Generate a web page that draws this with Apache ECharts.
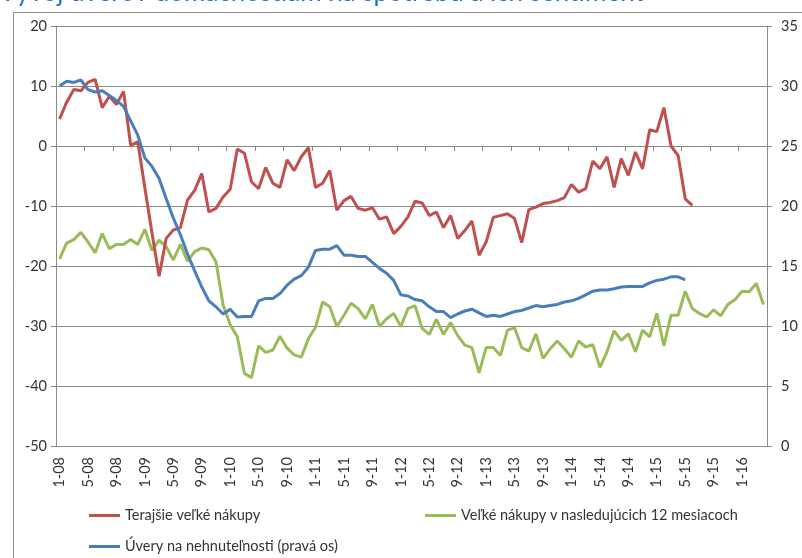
<!DOCTYPE html>
<html>
<head>
<meta charset="utf-8">
<script src="https://cdn.jsdelivr.net/npm/echarts@6/dist/echarts.min.js"></script>
<style>
html,body{margin:0;padding:0;background:#fff;}
#chart{width:802px;height:558px;}
</style>
</head>
<body>
<div id="chart"></div>
<script>
const categories = ("1-08 2-08 3-08 4-08 5-08 6-08 7-08 8-08 9-08 10-08 11-08 12-08 " +
  "1-09 2-09 3-09 4-09 5-09 6-09 7-09 8-09 9-09 10-09 11-09 12-09 " +
  "1-10 2-10 3-10 4-10 5-10 6-10 7-10 8-10 9-10 10-10 11-10 12-10 " +
  "1-11 2-11 3-11 4-11 5-11 6-11 7-11 8-11 9-11 10-11 11-11 12-11 " +
  "1-12 2-12 3-12 4-12 5-12 6-12 7-12 8-12 9-12 10-12 11-12 12-12 " +
  "1-13 2-13 3-13 4-13 5-13 6-13 7-13 8-13 9-13 10-13 11-13 12-13 " +
  "1-14 2-14 3-14 4-14 5-14 6-14 7-14 8-14 9-14 10-14 11-14 12-14 " +
  "1-15 2-15 3-15 4-15 5-15 6-15 7-15 8-15 9-15 10-15 11-15 12-15 " +
  "1-16 2-16 3-16 4-16").split(" ");

const seriesNames = ["Terajšie veľké nákupy", "Veľké nákupy v nasledujúcich 12 mesiacoch", "Úvery na nehnuteľnosti (pravá os)"];

const currentPurchases = [4.5, 7.3, 9.4, 9.2, 10.6, 11.1, 6.4, 8.3, 6.9, 9.1, 0.1, 0.7,
  -7, -14.5, -21.7, -15.4, -14, -13.6, -9, -7.4, -4.6, -11, -10.4, -8.5,
  -7.2, -0.5, -1.2, -6, -7.1, -3.6, -6.2, -6.9, -2.3, -4.1, -1.8, -0.3,
  -6.9, -6.2, -4.1, -10.7, -9.1, -8.4, -10.4, -10.7, -10.3, -12.2, -11.8, -14.6,
  -13.4, -11.8, -9.2, -9.5, -11.6, -11, -13.6, -11.6, -15.4, -14.1, -12.5, -18.2,
  -16, -11.9, -11.6, -11.3, -12.1, -16.1, -10.6, -10.2, -9.6, -9.4, -9.1, -8.6,
  -6.4, -7.7, -7.1, -2.5, -3.8, -1.8, -6.9, -2.1, -4.9, -1, -3.8, 2.7,
  2.4, 6.4, 0, -1.6, -8.8, -9.9];

const futurePurchases = [-18.8, -16.2, -15.6, -14.4, -16, -17.8, -14.6, -17.1, -16.4, -16.4, -15.6, -16.4,
  -13.9, -17.4, -15.7, -16.8, -19, -16.4, -19.2, -17.6, -17, -17.3, -19.3, -26.5,
  -29.8, -31.8, -37.9, -38.6, -33.3, -34.4, -34, -31.7, -33.7, -34.8, -35.2, -32.1,
  -30.2, -26, -26.8, -30.1, -28.2, -26.2, -27.1, -28.8, -26.4, -30.1, -28.8, -27.9,
  -30.1, -27.1, -26.6, -30.4, -31.4, -28.9, -31.4, -29.4, -31.6, -33.2, -33.6, -37.8,
  -33.6, -33.6, -34.9, -30.7, -30.3, -33.6, -34.2, -31.3, -35.4, -33.8, -32.5, -33.8,
  -35.2, -32.5, -33.5, -33.1, -36.9, -34.3, -30.8, -32.4, -31.3, -34.3, -30.7, -31.8,
  -27.9, -33.3, -28.2, -28.2, -24.2, -27.1, -27.9, -28.5, -27.3, -28.3, -26.4, -25.6,
  -24.2, -24.3, -22.9, -26.4];

const mortgageLoans = [30.0, 30.4, 30.3, 30.5, 29.7, 29.5, 29.6, 29.2, 28.8, 28.3, 27.1, 25.9,
  24.0, 23.3, 22.3, 20.6, 19.0, 17.6, 16.0, 14.6, 13.25, 12.1, 11.6, 11.0,
  11.4, 10.75, 10.8, 10.8, 12.1, 12.3, 12.3, 12.7, 13.4, 13.9, 14.2, 14.9,
  16.3, 16.4, 16.4, 16.7, 15.9, 15.9, 15.8, 15.8, 15.3, 14.8, 14.4, 13.8,
  12.6, 12.5, 12.2, 12.1, 11.6, 11.2, 11.2, 10.7, 11.0, 11.25, 11.4, 11.1,
  10.8, 10.9, 10.8, 11.0, 11.2, 11.3, 11.5, 11.7, 11.6, 11.7, 11.8, 12.0,
  12.1, 12.3, 12.6, 12.9, 13.0, 13.0, 13.1, 13.25, 13.3, 13.3, 13.3, 13.6,
  13.8, 13.9, 14.1, 14.1, 13.85];

const FONT = "Lato, 'Liberation Sans', sans-serif";
const GRID_COLOR = "#8a8a8a";
const TEXT_COLOR = "#333333";

const chart = echarts.init(document.getElementById("chart"), null, {renderer: "canvas"});

const legendBase = {
  icon: "rect", itemWidth: 31, itemHeight: 3, itemGap: 0,
  textStyle: {fontFamily: FONT, fontSize: 14.5, color: TEXT_COLOR},
  selectedMode: false
};

chart.setOption({
  animation: false,
  backgroundColor: "#ffffff",
  graphic: [
    {type: "rect", shape: {x: 13.5, y: 12.5, width: 820, height: 600},
     style: {fill: "none", stroke: "#8c8c8c", lineWidth: 1}, silent: true, z: -1},
    {type: "text", left: -1, top: -20,
     style: {text: "Vývoj úverov domácnostiam na spotrebu a ich sentiment",
             font: "26px " + FONT, fill: "#1f6fd6"}}
  ],
  grid: {left: 56, right: 35, top: 26, bottom: 112},
  legend: [
    Object.assign({}, legendBase, {data: [seriesNames[0]], left: 84, top: 503}),
    Object.assign({}, legendBase, {data: [seriesNames[1]], left: 420, top: 503}),
    Object.assign({}, legendBase, {data: [seriesNames[2]], left: 84, top: 534})
  ],
  xAxis: [
    {
      type: "category", data: categories, position: "bottom", boundaryGap: true,
      axisLine: {show: false, onZero: false}, axisTick: {show: false},
      axisLabel: {interval: 3, rotate: 90, margin: 11, fontFamily: FONT, fontSize: 14.5, color: TEXT_COLOR},
      splitLine: {show: false}
    },
    {
      type: "category", data: categories, position: "top", boundaryGap: true,
      axisLine: {show: true, onZero: true, lineStyle: {color: GRID_COLOR, width: 1}},
      axisTick: {show: true, interval: 3, inside: true, length: 5, lineStyle: {color: GRID_COLOR}},
      axisLabel: {show: false}, splitLine: {show: false}
    }
  ],
  yAxis: [
    {
      type: "value", min: -50, max: 20, interval: 10, position: "left",
      axisLine: {show: true, lineStyle: {color: GRID_COLOR}},
      axisTick: {show: true, length: 5, lineStyle: {color: GRID_COLOR}},
      axisLabel: {margin: 9, fontFamily: FONT, fontSize: 14.5, color: TEXT_COLOR},
      splitLine: {show: true, lineStyle: {color: GRID_COLOR, width: 1}}
    },
    {
      type: "value", min: 0, max: 35, interval: 5, position: "right",
      axisLine: {show: true, lineStyle: {color: GRID_COLOR}},
      axisTick: {show: true, length: 5, lineStyle: {color: GRID_COLOR}},
      axisLabel: {margin: 14, fontFamily: FONT, fontSize: 14.5, color: TEXT_COLOR},
      splitLine: {show: false}
    }
  ],
  series: [
    {name: seriesNames[0], type: "line", data: currentPurchases, xAxisIndex: 0, yAxisIndex: 0,
     showSymbol: false, symbol: "none", lineStyle: {color: "#c0504d", width: 3}, itemStyle: {color: "#c0504d"}, z: 3},
    {name: seriesNames[1], type: "line", data: futurePurchases, xAxisIndex: 0, yAxisIndex: 0,
     showSymbol: false, symbol: "none", lineStyle: {color: "#9bbb59", width: 3}, itemStyle: {color: "#9bbb59"}, z: 2},
    {name: seriesNames[2], type: "line", data: mortgageLoans, xAxisIndex: 0, yAxisIndex: 1,
     showSymbol: false, symbol: "none", lineStyle: {color: "#4a7ebb", width: 3}, itemStyle: {color: "#4a7ebb"}, z: 4}
  ]
});
</script>
</body>
</html>
